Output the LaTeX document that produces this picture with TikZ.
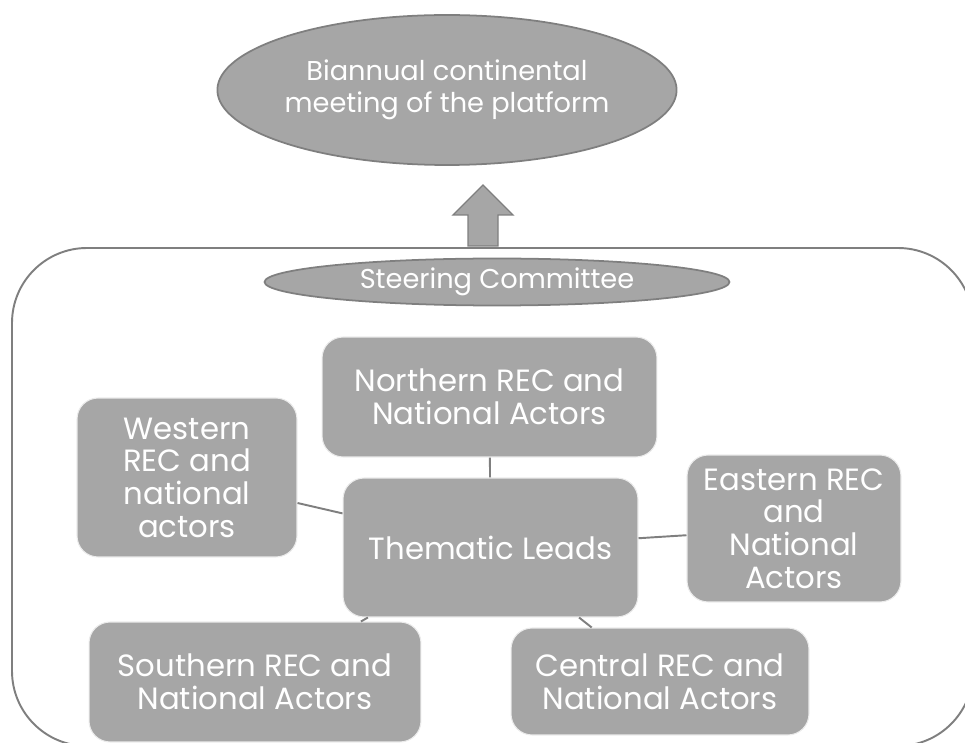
\documentclass[tikz,border=0pt]{standalone}
\usepackage{fontspec}
\setmainfont{Poppins}
\usetikzlibrary{shapes.geometric}
\definecolor{boxgray}{HTML}{A6A6A6}
\definecolor{edgegray}{HTML}{7F7F7F}
\begin{document}
\begin{tikzpicture}[x=0.02cm, y=-0.02cm,
		region/.style={rectangle, rounded corners=12pt, fill=boxgray, draw=white!92!black, line width=0.6pt,
			text=white, align=center, font=\fontsize{17.5}{18.6}\selectfont, inner sep=2pt},
		oval/.style={ellipse, fill=boxgray, draw=edgegray, line width=1pt, text=white, align=center,
			font=\fontsize{15.5}{18.5}\selectfont, inner sep=0pt},
		link/.style={draw=edgegray, line width=1.1pt}]
	\useasboundingbox (0,0) rectangle (965,743);
	\clip (0,0) rectangle (965,743);

	% Outer frame and arrow
	\draw[edgegray, line width=1.1pt, rounded corners=1.5cm] (12,248) rectangle (973,746);
	\draw[fill=boxgray, draw=edgegray, line width=0.8pt]
		(483,185) -- (513,215) -- (498,215) -- (498,246) -- (468,246) -- (468,215) -- (453,215) -- cycle;

	% Define nodes with their coordinates
	\node[oval, minimum width=8.92cm, minimum height=3cm] (meet) at (447,90) {Biannual continental\\meeting of the platform};
	\node[oval, minimum width=9.3cm, minimum height=0.94cm] (steer) at (497,282) {Steering Committee};
	\node[region, minimum width=6.7cm, minimum height=2.4cm] (north) at (489.5,397) {Northern REC and\\National Actors};
	\node[region, minimum width=4.4cm, minimum height=3.18cm] (west) at (187,477.5) {Western\\REC and\\national\\actors};
	\node[region, minimum width=5.9cm, minimum height=2.78cm] (lead) at (490.5,547.5) {Thematic Leads};
	\node[region, minimum width=4.28cm, minimum height=2.94cm] (east) at (794,528.5) {Eastern REC\\and\\National\\Actors};
	\node[region, minimum width=6.64cm, minimum height=2.4cm] (south) at (255,682) {Southern REC and\\National Actors};
	\node[region, minimum width=5.96cm, minimum height=2.14cm] (central) at (660,681.5) {Central REC and\\National Actors};

	% Draw links to the leads
	\draw[link] (north) -- (lead);
	\draw[link] (west) -- (lead);
	\draw[link] (lead) -- (east);
	\draw[link] (lead) -- (south);
	\draw[link] (lead) -- (central);

\end{tikzpicture}
\end{document}
